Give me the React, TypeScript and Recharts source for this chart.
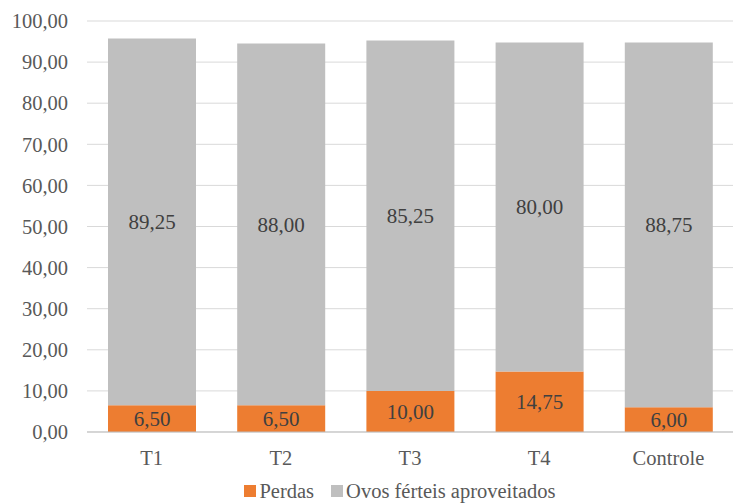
import React from "react";
import { BarChart, Bar, XAxis, YAxis, CartesianGrid, Legend, LabelList } from "recharts";

const categories = ["T1", "T2", "T3", "T4", "Controle"];
const perdas = [6.5, 6.5, 10.0, 14.75, 6.0];
const aproveitados = [89.25, 88.0, 85.25, 80.0, 88.75];
const yTicks = [0, 10, 20, 30, 40, 50, 60, 70, 80, 90, 100];

const data = categories.map((name, i) => ({
  name,
  perdas: perdas[i],
  aproveitados: aproveitados[i],
}));

const legendItems = [
  { label: "Perdas", color: "#ED7D31" },
  { label: "Ovos férteis aproveitados", color: "#BFBFBF" },
];

const fmt = (v: number) => v.toFixed(2).replace(".", ",");
const FONT = "Liberation Serif, DejaVu Serif, serif";

const renderLegend = () => (
  <div
    style={{
      display: "flex",
      justifyContent: "center",
      alignItems: "center",
      paddingLeft: 66,
      fontSize: 20.5,
      color: "#595959",
      fontFamily: FONT,
      lineHeight: "24px",
    }}
  >
    {legendItems.map((it, i) => (
      <span key={it.label} style={{ display: "flex", alignItems: "center", marginLeft: i ? 17 : 0 }}>
        <span style={{ width: 12, height: 12, background: it.color, marginRight: 3, display: "inline-block" }} />
        {it.label}
      </span>
    ))}
  </div>
);

const App: React.FC = () => {
  return (
    <div style={{ position: "absolute", left: 0, top: 0, fontFamily: FONT }}>
      <style>{`.recharts-wrapper text { font-family: ${FONT}; }`}</style>
      <BarChart
        width={734}
        height={503}
        data={data}
        margin={{ top: 21, right: 1, left: 0, bottom: 0 }}
        barSize={88}
        style={{ fontFamily: FONT }}
      >
        <CartesianGrid vertical={false} stroke="#D9D9D9" />
        <XAxis
          dataKey="name"
          tickLine={false}
          axisLine={{ stroke: "#BFBFBF" }}
          tick={{ fill: "#595959", fontSize: 20.5 }}
          tickMargin={12}
          height={47}
        />
        <YAxis
          domain={[0, 100]}
          ticks={yTicks}
          tickFormatter={fmt}
          tickLine={false}
          axisLine={false}
          width={87}
          tickMargin={13}
          tick={{ fill: "#595959", fontSize: 20.5 }}
        />
        <Legend
          verticalAlign="bottom"
          content={renderLegend}
          wrapperStyle={{ left: 0, width: 734, bottom: 0 }}
        />
        <Bar dataKey="perdas" name="Perdas" stackId="a" fill="#ED7D31" isAnimationActive={false}>
          <LabelList
            dataKey="perdas"
            position="center"
            formatter={(v: number) => fmt(v)}
            style={{ fill: "#404040", fontSize: 21 }}
          />
        </Bar>
        <Bar
          dataKey="aproveitados"
          name="Ovos férteis aproveitados"
          stackId="a"
          fill="#BFBFBF"
          isAnimationActive={false}
        >
          <LabelList
            dataKey="aproveitados"
            position="center"
            formatter={(v: number) => fmt(v)}
            style={{ fill: "#404040", fontSize: 21 }}
          />
        </Bar>
      </BarChart>
    </div>
  );
};

export default App;
